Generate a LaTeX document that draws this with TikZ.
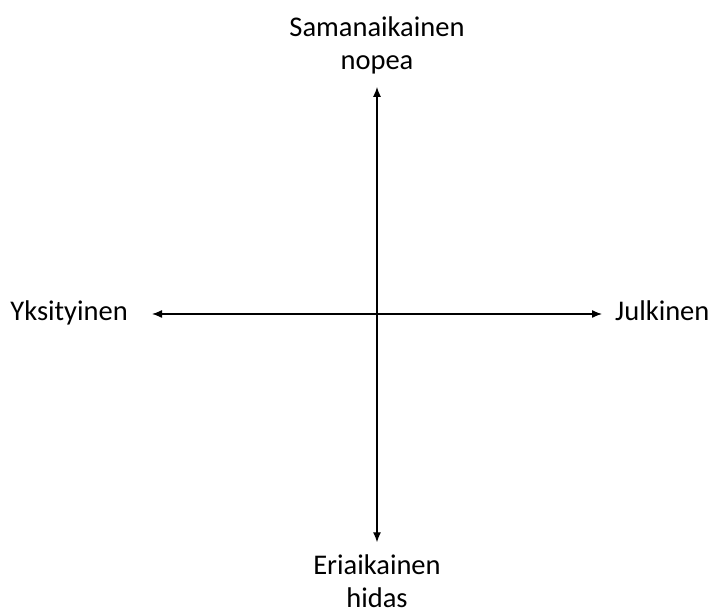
\documentclass[tikz,border=0pt]{standalone}
\usepackage{fontspec}
\setmainfont{Carlito}
\usetikzlibrary{arrows.meta}
\begin{document}
\begin{tikzpicture}[x=1pt,y=-1pt,
  lbl/.style={inner sep=0pt,font=\fontsize{28.5}{33}\selectfont,align=center},
  side/.style={lbl,text height=20pt,text depth=7pt},
  axis/.style={{Latex[length=10pt,width=8pt]}-{Latex[length=10pt,width=8pt]},line width=1.3pt}]
  \useasboundingbox (0,0) rectangle (713,609);
  \node[lbl] (sa) at (377,45) {Samanaikainen\\nopea};
  \node[lbl] (er) at (377,581) {Eriaikainen\\hidas};
  \node[side,anchor=east] (yk) at (128,314) {Yksityinen};
  \node[side,anchor=west] (ju) at (615,314) {Julkinen};
  \draw[axis,shorten <=13pt,shorten >=12pt] (sa.south) -- (er.north);
  \draw[axis,shorten <=24pt,shorten >=13pt] (yk.east) -- (ju.west);
\end{tikzpicture}
\end{document}
